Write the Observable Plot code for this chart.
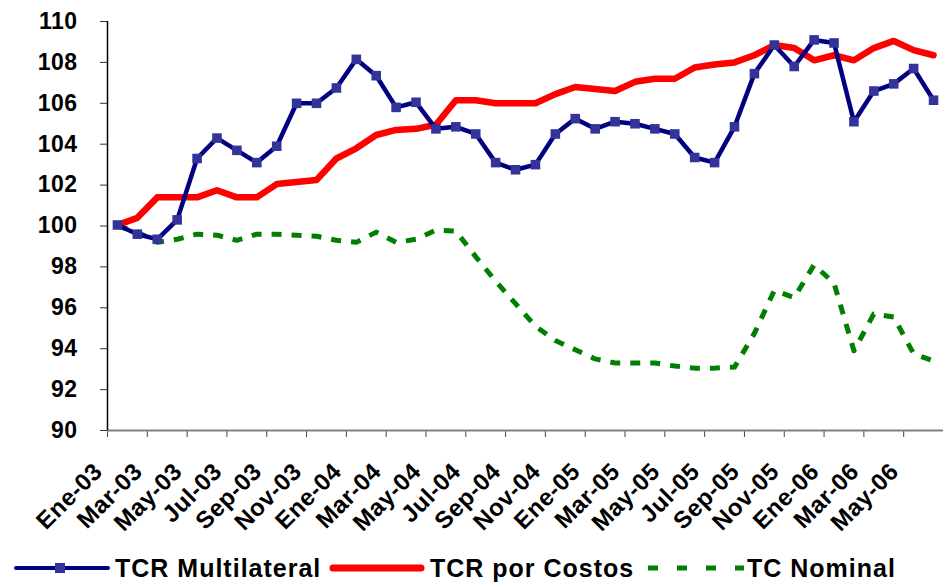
<!DOCTYPE html>
<html><head><meta charset="utf-8">
<script src="https://cdn.jsdelivr.net/npm/d3@7"></script>
<script src="https://cdn.jsdelivr.net/npm/@observablehq/plot@0.6"></script>
<style>
body{margin:0;background:#fff;font-family:"Liberation Sans",Arial,sans-serif;}
#chart svg{display:block;}
#legend{display:block;}
</style></head><body>
<div id="chart"></div>
<svg id="legend" width="943" height="43"></svg>
<script>
const months = ["Ene-03","Feb-03","Mar-03","Abr-03","May-03","Jun-03","Jul-03","Ago-03","Sep-03","Oct-03","Nov-03","Dic-03",
"Ene-04","Feb-04","Mar-04","Abr-04","May-04","Jun-04","Jul-04","Ago-04","Sep-04","Oct-04","Nov-04","Dic-04",
"Ene-05","Feb-05","Mar-05","Abr-05","May-05","Jun-05","Jul-05","Ago-05","Sep-05","Oct-05","Nov-05","Dic-05",
"Ene-06","Feb-06","Mar-06","Abr-06","May-06","Jun-06"];
const tcrMultilateral = [100.05,99.6,99.35,100.3,103.3,104.3,103.7,103.1,103.9,106.0,106.0,106.75,
108.15,107.35,105.8,106.05,104.75,104.85,104.5,103.1,102.75,103.0,104.5,105.25,
104.75,105.1,105.0,104.75,104.5,103.35,103.1,104.85,107.45,108.85,107.8,109.1,
108.95,105.1,106.6,106.95,107.7,106.15];
const tcrCostos = [100.05,100.4,101.4,101.4,101.4,101.75,101.4,101.4,102.05,102.15,102.25,103.3,
103.8,104.45,104.7,104.75,104.95,106.15,106.15,106.0,106.0,106.0,106.45,106.8,
106.7,106.6,107.05,107.2,107.2,107.75,107.9,108.0,108.35,108.85,108.7,108.1,
108.35,108.1,108.7,109.05,108.6,108.35];
const tcNominal = [100.0,99.7,99.2,99.35,99.6,99.55,99.3,99.6,99.6,99.55,99.5,99.3,
99.2,99.7,99.2,99.35,99.8,99.75,98.5,97.3,96.2,95.1,94.4,93.95,
93.5,93.3,93.3,93.3,93.15,93.05,93.05,93.1,94.75,96.85,96.5,98.1,
97.2,93.9,95.7,95.55,93.75,93.4];
const yTicks = [90,92,94,96,98,100,102,104,106,108,110];
const seriesNames = ["TCR Multilateral","TCR por Costos","TC Nominal"];

const rows = months.map((m,i)=>({i, month:m, multi:tcrMultilateral[i], costos:tcrCostos[i], nominal:tcNominal[i]}));
const labelRows = rows.filter(d => d.i % 2 === 0);
const boundaries = d3.range(0, 42, 2).map(b => b - 0.5);

const W = 943, H = 540, FONT = "Liberation Sans, Arial, sans-serif";
const chart = Plot.plot({
  width: W, height: H,
  marginLeft: 107, marginRight: 0, marginTop: 21, marginBottom: H - 430,
  x: {domain: [-0.5, 41.5]},
  y: {domain: [90, 110]},
  style: {fontFamily: FONT, fontWeight: "bold", fontSize: "23px", background: "#fff", color: "#000", letterSpacing: "0.5px"},
  marks: [
    Plot.axisY({ticks: yTicks, tickSize: 7, tickPadding: 23, fontSize: 23, fontWeight: "bold", label: null, stroke: "#333", fill: "#000"}),
    Plot.axisX({ticks: boundaries, tickSize: 7, tickFormat: () => "", label: null, stroke: "#444"}),
    Plot.text(labelRows, {x: "i", text: "month", frameAnchor: "bottom", rotate: -45, textAnchor: "end", lineAnchor: "middle", dx: -19, dy: 37, fontSize: 24, fontWeight: "bold", fill: "#000"}),
    Plot.ruleY([90], {stroke: "#808080", strokeWidth: 2}),
    Plot.ruleX([-0.5], {stroke: "#000", strokeWidth: 1.5}),
    Plot.line(rows, {x: "i", y: "nominal", stroke: "#008000", strokeWidth: 5, strokeDasharray: "10,10", strokeLinecap: "butt"}),
    Plot.line(rows, {x: "i", y: "costos", stroke: "#ff0000", strokeWidth: 6.5, strokeLinejoin: "round", strokeLinecap: "round"}),
    Plot.line(rows, {x: "i", y: "multi", stroke: "#000080", strokeWidth: 4.5, strokeLinejoin: "round"}),
    Plot.dot(rows, {x: "i", y: "multi", symbol: "square", r: 5.4, fill: "#333399", stroke: "none"})
  ]
});
document.getElementById("chart").appendChild(chart);

// legend below
const lg = d3.select("#legend");
const ts = {"font-family": FONT, "font-weight": "bold", "font-size": "25px", "letter-spacing": "1px", fill: "#000"};
function txt(x, s) { const t = lg.append("text").attr("x", x).attr("y", 37).text(s); for (const k in ts) t.attr(k, ts[k]); }
lg.append("line").attr("x1", 16).attr("x2", 108).attr("y1", 28).attr("y2", 28).attr("stroke", "#000080").attr("stroke-width", 4).attr("stroke-linecap", "round");
lg.append("rect").attr("x", 55).attr("y", 23).attr("width", 10).attr("height", 10).attr("fill", "#333399");
txt(115, seriesNames[0]);
lg.append("line").attr("x1", 333).attr("x2", 421).attr("y1", 28).attr("y2", 28).attr("stroke", "#ff0000").attr("stroke-width", 7).attr("stroke-linecap", "round");
txt(430, seriesNames[1]);
lg.append("line").attr("x1", 648).attr("x2", 744).attr("y1", 28).attr("y2", 28).attr("stroke", "#008000").attr("stroke-width", 5).attr("stroke-dasharray", "10,19");
txt(747, seriesNames[2]);
</script>
</body></html>
